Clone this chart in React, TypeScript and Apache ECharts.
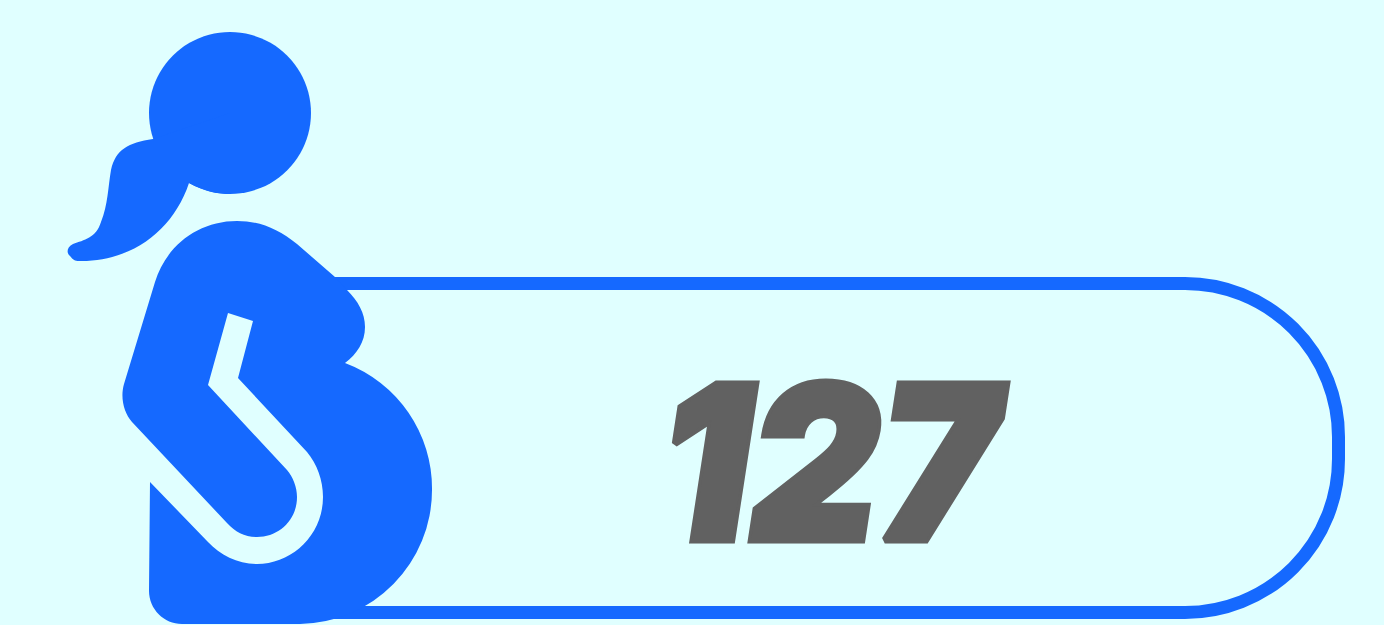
import React, { useEffect, useRef } from "react";
import * as echarts from "echarts";

const counts = [127];
const labels = counts.map(String);

const BLUE = "#1569FF";
const GREY = "#616161";
const BG = "#E0FFFF";

const framePath =
  "M 300 283.5 L 1185 283.5 A 153.5 153.5 0 0 1 1338.5 437 L 1338.5 459 A 153.5 153.5 0 0 1 1185 612.5 L 300 612.5";
const headPath = "M 149 113 A 81 81 0 1 1 149 113.01 Z";
const tailPath =
  "M 153 139 C 128 143 116 149 111 170 C 108 187 108 205 101 222 C 96 238 84 240 73 244 C 67 247 66 253 70 256 C 73 260 75 261 79 261 C 131 262 173 231 189 183 C 205 192 220 194 230 194 L 230 113 Z";
const bodyPath =
  "M 237 221 C 260 221 278 229 297 244 L 335 277 L 347 290 C 358 301 365 313 365 327 C 365 342 357 354 345 363 " +
  "A 134 134 0 0 1 432 490 A 134 134 0 0 1 300 624 L 182 624 C 164 624 149 609 149 591 L 150 482 L 208 542 C 220 555 238 564 257 564 " +
  "C 292 564 323 535 323 497 C 323 480 317 464 307 452 L 238 378 L 253 321 L 228 313 L 208 385 L 287 470 " +
  "C 293 477 297 487 297 497 C 297 520 279 537 257 537 C 245 537 235 532 227 523 L 132 422 C 124 413 120 398 124 384 " +
  "L 155 282 C 166 246 198 221 237 221 Z";

echarts.graphic.registerShape("frameShape", echarts.graphic.extendPath(framePath, {}) as any);
echarts.graphic.registerShape("headShape", echarts.graphic.extendPath(headPath, {}) as any);
echarts.graphic.registerShape("tailShape", echarts.graphic.extendPath(tailPath, {}) as any);
echarts.graphic.registerShape("bodyShape", echarts.graphic.extendPath(bodyPath, {}) as any);

export default function App() {
  const ref = useRef<HTMLDivElement>(null);
  useEffect(() => {
    const chart = echarts.init(ref.current!, null, { renderer: "svg" });
    chart.setOption({
      animation: false,
      backgroundColor: BG,
      graphic: {
        elements: [
          { type: "frameShape", style: { fill: "none", stroke: BLUE, lineWidth: 13 } },
          { type: "headShape", style: { fill: BLUE } },
          { type: "tailShape", style: { fill: BLUE } },
          { type: "bodyShape", style: { fill: BLUE } },
          {
            type: "text",
            x: 829,
            y: 461.5,
            scaleX: 0.925,
            style: {
              text: labels[0],
              fill: GREY,
              stroke: GREY,
              lineWidth: 7,
              font: "italic 900 215px Inter",
              textAlign: "center",
              textVerticalAlign: "middle",
            },
          },
        ],
      },
    });
    return () => chart.dispose();
  }, []);
  return (
    <div
      ref={ref}
      style={{ position: "absolute", left: 0, top: 0, width: 1384, height: 625 }}
    />
  );
}
